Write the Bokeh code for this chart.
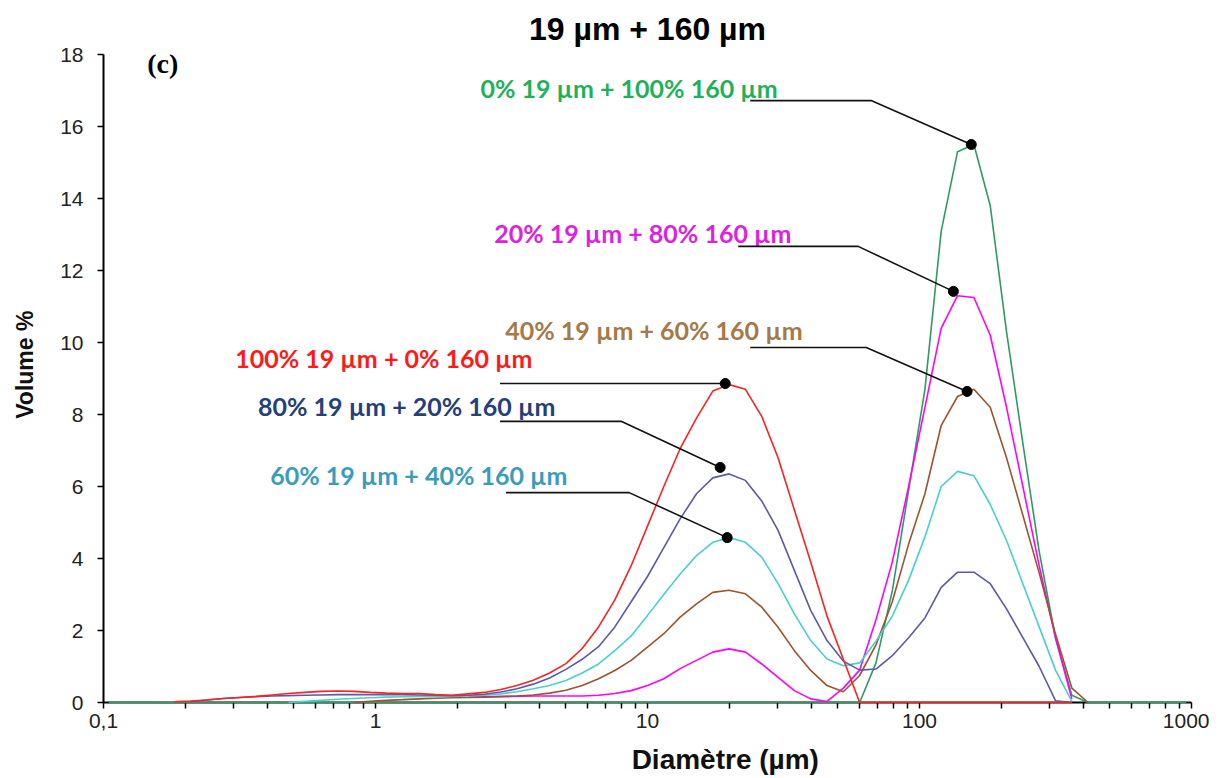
from bokeh.plotting import figure
from bokeh.models import Range1d, FixedTicker
from bokeh.embed import file_html
from bokeh.resources import INLINE
from bokeh.core.properties import value

# Size classes (µm), log-spaced instrument bins
diam = [0.1047, 0.1202, 0.1380, 0.1585, 0.1820, 0.2089, 0.2399, 0.2754, 0.3162, 0.3631,
        0.4169, 0.4786, 0.5495, 0.6310, 0.7244, 0.8318, 0.9550, 1.096, 1.259, 1.445,
        1.660, 1.905, 2.188, 2.512, 2.884, 3.311, 3.802, 4.365, 5.012, 5.754,
        6.607, 7.586, 8.710, 10.00, 11.48, 13.18, 15.14, 17.38, 19.95, 22.91,
        26.30, 30.20, 34.67, 39.81, 45.71, 52.48, 60.26, 69.18, 79.43, 91.20,
        104.7, 120.2, 138.0, 158.5, 182.0, 208.9, 239.9, 275.4, 316.2, 363.1,
        416.9, 478.6, 549.5, 631.0, 724.4, 831.8, 955.0]

# 100% 19 µm + 0% 160 µm (from 0.182 µm)
red_start = 4
red_vol = [0.02, 0.04, 0.07, 0.11, 0.14, 0.17, 0.21, 0.25, 0.28, 0.31,
           0.32, 0.31, 0.28, 0.26, 0.25, 0.25, 0.22, 0.20, 0.24, 0.28,
           0.36, 0.47, 0.62, 0.82, 1.08, 1.50, 2.10, 2.85, 3.80, 4.90,
           6.00, 7.05, 7.90, 8.65, 8.83, 8.70, 7.95, 6.80, 5.35, 3.90,
           2.40, 1.20, 0, 0, 0, 0, 0, 0, 0, 0, 0, 0, 0, 0, 0, 0]

# 80% 19 µm + 20% 160 µm (from 0.2089 µm)
blue_start = 5
blue_vol = [0.02, 0.07, 0.11, 0.14, 0.16, 0.18, 0.19, 0.20, 0.21, 0.22,
            0.22, 0.22, 0.22, 0.22, 0.21, 0.20, 0.19, 0.20, 0.23, 0.29,
            0.38, 0.51, 0.68, 0.92, 1.20, 1.55, 2.10, 2.80, 3.50, 4.30,
            5.10, 5.80, 6.24, 6.35, 6.17, 5.60, 4.78, 3.67, 2.56, 1.72,
            1.15, 0.90, 0.93, 1.30, 1.80, 2.35, 3.20, 3.62, 3.62, 3.30,
            2.60, 1.80, 1.00, 0.05, 0]

# 60% 19 µm + 40% 160 µm (from 0.4786 µm)
cyan_start = 11
cyan_vol = [0.0, 0.03, 0.06, 0.09, 0.11, 0.13, 0.15, 0.16, 0.17, 0.17,
            0.17, 0.18, 0.20, 0.24, 0.30, 0.38, 0.47, 0.61, 0.82, 1.07,
            1.44, 1.85, 2.42, 3.00, 3.57, 4.08, 4.45, 4.58, 4.45, 4.04,
            3.30, 2.46, 1.72, 1.21, 1.02, 1.10, 1.70, 2.40, 3.40, 4.60,
            6.00, 6.42, 6.30, 5.50, 4.50, 3.30, 2.10, 0.90, 0.03]

# 40% 19 µm + 60% 160 µm (from 0.8318 µm)
brown_start = 15
brown_vol = [0.0, 0.03, 0.06, 0.08, 0.10, 0.12, 0.13, 0.14, 0.15, 0.16,
             0.18, 0.21, 0.26, 0.34, 0.47, 0.66, 0.89, 1.17, 1.54, 1.91,
             2.37, 2.74, 3.06, 3.12, 3.02, 2.65, 2.09, 1.44, 0.89, 0.47,
             0.30, 0.75, 1.60, 2.80, 4.40, 5.80, 7.70, 8.50, 8.70, 8.20,
             6.80, 5.20, 3.60, 1.90, 0.40, 0]

# 20% 19 µm + 80% 160 µm (from 2.188 µm)
magenta_start = 22
magenta_vol = [0.15, 0.16, 0.17, 0.17, 0.18, 0.18, 0.18, 0.18, 0.20, 0.25,
               0.33, 0.47, 0.66, 0.94, 1.17, 1.40, 1.49, 1.40, 1.07, 0.70,
               0.33, 0.10, 0.03, 0.40, 0.90, 2.30, 3.90, 6.00, 8.20, 10.40,
               11.30, 11.25, 10.20, 8.20, 6.00, 3.80, 1.80, 0.10]

# 0% 19 µm + 100% 160 µm (all bins)
green_start = 0
green_vol = [0, 0, 0, 0, 0, 0, 0, 0, 0, 0,
             0, 0, 0, 0, 0, 0, 0, 0, 0, 0,
             0, 0, 0, 0, 0, 0, 0, 0, 0, 0,
             0, 0, 0, 0, 0, 0, 0, 0, 0, 0,
             0, 0, 0, 0, 0, 0, 0, 1.10, 3.10, 5.90,
             8.70, 13.10, 15.30, 15.50, 13.80, 10.30, 7.20, 4.20, 1.80, 0.20,
             0, 0, 0, 0, 0, 0, 0]

series_names = ["0% 19 µm + 100% 160 µm", "20% 19 µm + 80% 160 µm",
                "40% 19 µm + 60% 160 µm", "60% 19 µm + 40% 160 µm",
                "80% 19 µm + 20% 160 µm", "100% 19 µm + 0% 160 µm"]
line_colors = ["#2f9a63", "#ff00ff", "#a0522d", "#48d1cc", "#5a5aa8", "#ff2020"]
label_colors = ["#1fb15a", "#dd22dd", "#a47a48", "#3a9cbc", "#24407a", "#ff1a1a"]
starts = [green_start, magenta_start, brown_start, cyan_start, blue_start, red_start]
vols = [green_vol, magenta_vol, brown_vol, cyan_vol, blue_vol, red_vol]

# Label anchors (left x in µm, centre y in %)
label_x = [2.43, 2.73, 3.0, 0.41, 0.37, 0.305]
label_y = [17.06, 13.03, 10.36, 6.33, 8.25, 9.58]
# Leader polylines (µm, %), ending on the marked peak
leader_x = [[23.86, 66.4, 155.0], [21.56, 59.5, 133.2], [23.86, 63.7, 149.6],
            [3.02, 8.56, 19.63], [2.87, 8.0, 18.5], [2.87, 19.31]]
leader_y = [[16.72, 16.72, 15.5], [12.67, 12.67, 11.42], [9.86, 9.86, 8.64],
            [5.83, 5.83, 4.58], [7.81, 7.81, 6.53], [8.86, 8.86]]

x_ticks = [0.1, 1, 10, 100, 1000]
x_tick_labels = ["0,1", "1", "10", "100", "1000"]
x_minor = [m * d for d in (0.1, 1, 10, 100) for m in range(2, 10)]
y_ticks = [0, 2, 4, 6, 8, 10, 12, 14, 16, 18]

p = figure(width=1209, height=778, x_axis_type="log",
           x_range=Range1d(0.1, 1000), y_range=Range1d(0, 18),
           output_backend="svg", toolbar_location=None,
           min_border_left=103, min_border_right=18,
           min_border_top=54, min_border_bottom=76)
p.background_fill_color = "white"
p.border_fill_color = "white"
p.outline_line_color = None
p.grid.visible = False

p.title.text = "19 µm + 160 µm"
p.title.align = "center"
p.title.text_font = "Liberation Sans"
p.title.text_font_size = "32px"
p.title.text_font_style = "bold"
p.title.text_color = "black"
p.title.standoff = 16

for ax in (p.xaxis[0], p.yaxis[0]):
    ax.axis_line_color = "black"
    ax.axis_line_width = 2
    ax.major_tick_line_color = "black"
    ax.major_tick_line_width = 1.5
    ax.major_tick_in = 0
    ax.major_tick_out = 6
    ax.major_label_text_font = "Liberation Sans"
    ax.major_label_text_font_size = "21px"
    ax.major_label_text_color = "#222222"
    ax.axis_label_text_font = "Liberation Sans"
    ax.axis_label_text_font_style = "bold"
    ax.axis_label_text_color = "#111111"

p.xaxis[0].ticker = FixedTicker(ticks=x_ticks, minor_ticks=x_minor)
p.xaxis[0].major_label_overrides = dict(zip(x_ticks, x_tick_labels))
p.xaxis[0].minor_tick_line_color = "black"
p.xaxis[0].minor_tick_line_width = 1.5
p.xaxis[0].minor_tick_in = 0
p.xaxis[0].minor_tick_out = 6
p.xaxis[0].major_label_standoff = 5
# leading wide spaces push the centred label to the right, as in the original
p.xaxis[0].axis_label = "\u2003\u2003\u2003\u2003\u2003\u2007Diamètre (µm)"
p.xaxis[0].axis_label_text_font_size = "28px"
p.xaxis[0].axis_label_standoff = 13

p.yaxis[0].ticker = FixedTicker(ticks=y_ticks)
p.yaxis[0].minor_tick_line_color = None
p.yaxis[0].major_label_standoff = 14
p.yaxis[0].axis_label = "\u2003\u2009Volume %"
p.yaxis[0].axis_label_text_font_size = "23px"
p.yaxis[0].axis_label_standoff = 19

for start, vol, col in zip(starts, vols, line_colors):
    xs = diam[start:start + len(vol)]
    r = p.line(xs, vol, line_color=col, line_width=1.6)
    r.level = "overlay"

for lx, ly in zip(leader_x, leader_y):
    r = p.line(lx, ly, line_color="#111111", line_width=1.6)
    r.level = "overlay"
    r2 = p.scatter([lx[-1]], [ly[-1]], size=10, color="black")
    r2.level = "overlay"

p.text(x=label_x, y=label_y, text=series_names, text_color=label_colors,
       text_font=value("Lato"), text_font_style="bold", text_font_size="25px",
       text_align="left", text_baseline="middle")

p.text(x=[0.1448], y=[17.75], text=["(c)"], text_color="black",
       text_font=value("Liberation Serif"), text_font_style="bold",
       text_font_size="28px", text_align="left", text_baseline="middle")

open("out.html", "w").write(file_html(p, INLINE))
